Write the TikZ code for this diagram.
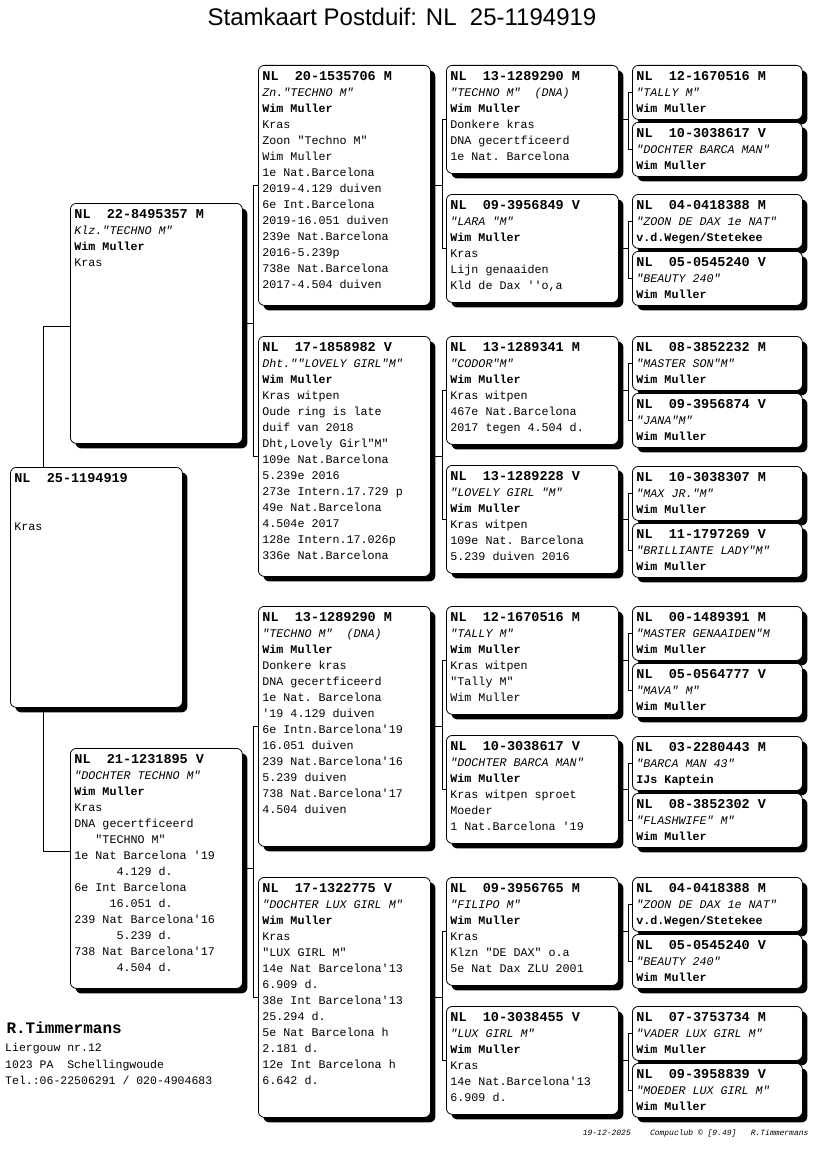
\documentclass[tikz,border=0pt]{standalone}
\usepackage{fontspec}
\setmonofont{Liberation Mono}
\newfontfamily\titlefont{Liberation Sans}
\usetikzlibrary{shadows}
\newcommand{\ringnr}[1]{{\fontsize{13.5}{16}\selectfont\bfseries #1}}

\begin{document}
\begin{tikzpicture}[x=1pt, y=-1pt,
    card/.style={draw, line width=0.8pt, fill=white, rounded corners=6pt, anchor=north west, align=flush left, inner xsep=4pt, inner ysep=4pt, text height=11pt, font=\ttfamily\fontsize{11.7}{16}\selectfont\frenchspacing, drop shadow={shadow xshift=5pt, shadow yshift=-5pt, fill=black, opacity=1}},
    big/.style={card, text width=164pt, text depth=221pt},
    mid/.style={card, text width=164pt, text depth=89pt},
    small/.style={card, text width=162pt, text depth=35pt},
    link/.style={line width=0.8pt}]
    \useasboundingbox (0,0) rectangle (816,1172);

    \node[font=\titlefont\fontsize{24}{28}\selectfont] (title) at (402,17) {Stamkaart Postduif: NL\ \ 25-1194919};

    % duif en ouders
    \node[big] (subj) at (10,467) {\ringnr{NL~~25-1194919}\\ \mbox{}\\ \mbox{}\\ Kras};
    \node[big] (s) at (70,203) {\ringnr{NL~~22-8495357 M}\\ \textit{Klz."TECHNO M"}\\ \textbf{Wim Muller}\\ Kras};
    \node[big] (d) at (70,748) {\ringnr{NL~~21-1231895 V}\\ \textit{"DOCHTER TECHNO M"}\\ \textbf{Wim Muller}\\ Kras\\ DNA gecertficeerd\\ ~~~"TECHNO M"\\ 1e Nat Barcelona '19\\ ~~~~~~4.129 d.\\ 6e Int Barcelona\\ ~~~~~16.051 d.\\ 239 Nat Barcelona'16\\ ~~~~~~5.239 d.\\ 738 Nat Barcelona'17\\ ~~~~~~4.504 d.};

    % grootouders
    \node[big] (ss) at (258,65) {\ringnr{NL~~20-1535706 M}\\ \textit{Zn."TECHNO M"}\\ \textbf{Wim Muller}\\ Kras\\ Zoon "Techno M"\\ Wim Muller\\ 1e Nat.Barcelona\\ 2019-4.129 duiven\\ 6e Int.Barcelona\\ 2019-16.051 duiven\\ 239e Nat.Barcelona\\ 2016-5.239p\\ 738e Nat.Barcelona\\ 2017-4.504 duiven};
    \node[big] (sd) at (258,336) {\ringnr{NL~~17-1858982 V}\\ \textit{Dht.""LOVELY GIRL"M"}\\ \textbf{Wim Muller}\\ Kras witpen\\ Oude ring is late\\ duif van 2018\\ Dht,Lovely Girl"M"\\ 109e Nat.Barcelona\\ 5.239e 2016\\ 273e Intern.17.729 p\\ 49e Nat.Barcelona\\ 4.504e 2017\\ 128e Intern.17.026p\\ 336e Nat.Barcelona};
    \node[big] (ds) at (258,606) {\ringnr{NL~~13-1289290 M}\\ \textit{"TECHNO M"~~(DNA)}\\ \textbf{Wim Muller}\\ Donkere kras\\ DNA gecertficeerd\\ 1e Nat. Barcelona\\ '19 4.129 duiven\\ 6e Intn.Barcelona'19\\ 16.051 duiven\\ 239 Nat.Barcelona'16\\ 5.239 duiven\\ 738 Nat.Barcelona'17\\ 4.504 duiven};
    \node[big] (dd) at (258,877) {\ringnr{NL~~17-1322775 V}\\ \textit{"DOCHTER LUX GIRL M"}\\ \textbf{Wim Muller}\\ Kras\\ "LUX GIRL M"\\ 14e Nat Barcelona'13\\ 6.909 d.\\ 38e Int Barcelona'13\\ 25.294 d.\\ 5e Nat Barcelona h\\ 2.181 d.\\ 12e Int Barcelona h\\ 6.642 d.};

    % overgrootouders
    \node[mid] (sss) at (446,65) {\ringnr{NL~~13-1289290 M}\\ \textit{"TECHNO M"~~(DNA)}\\ \textbf{Wim Muller}\\ Donkere kras\\ DNA gecertficeerd\\ 1e Nat. Barcelona};
    \node[mid] (ssd) at (446,194) {\ringnr{NL~~09-3956849 V}\\ \textit{"LARA "M"}\\ \textbf{Wim Muller}\\ Kras\\ Lijn genaaiden\\ Kld de Dax ''o,a};
    \node[mid] (sds) at (446,336) {\ringnr{NL~~13-1289341 M}\\ \textit{"CODOR"M"}\\ \textbf{Wim Muller}\\ Kras witpen\\ 467e Nat.Barcelona\\ 2017 tegen 4.504 d.};
    \node[mid] (sdd) at (446,465) {\ringnr{NL~~13-1289228 V}\\ \textit{"LOVELY GIRL "M"}\\ \textbf{Wim Muller}\\ Kras witpen\\ 109e Nat. Barcelona\\ 5.239 duiven 2016};
    \node[mid] (dss) at (446,606) {\ringnr{NL~~12-1670516 M}\\ \textit{"TALLY M"}\\ \textbf{Wim Muller}\\ Kras witpen\\ "Tally M"\\ Wim Muller};
    \node[mid] (dsd) at (446,735) {\ringnr{NL~~10-3038617 V}\\ \textit{"DOCHTER BARCA MAN"}\\ \textbf{Wim Muller}\\ Kras witpen sproet\\ Moeder\\ 1 Nat.Barcelona '19};
    \node[mid] (dds) at (446,877) {\ringnr{NL~~09-3956765 M}\\ \textit{"FILIPO M"}\\ \textbf{Wim Muller}\\ Kras\\ Klzn "DE DAX" o.a\\ 5e Nat Dax ZLU 2001};
    \node[mid] (ddd) at (446,1006) {\ringnr{NL~~10-3038455 V}\\ \textit{"LUX GIRL M"}\\ \textbf{Wim Muller}\\ Kras\\ 14e Nat.Barcelona'13\\ 6.909 d.};

    % betovergrootouders
    \node[small] (ssss) at (632,65) {\ringnr{NL~~12-1670516 M}\\ \textit{"TALLY M"}\\ \textbf{Wim Muller}};
    \node[small] (sssd) at (632,122) {\ringnr{NL~~10-3038617 V}\\ \textit{"DOCHTER BARCA MAN"}\\ \textbf{Wim Muller}};
    \node[small] (ssds) at (632,194) {\ringnr{NL~~04-0418388 M}\\ \textit{"ZOON DE DAX 1e NAT"}\\ \textbf{v.d.Wegen/Stetekee}};
    \node[small] (ssdd) at (632,251) {\ringnr{NL~~05-0545240 V}\\ \textit{"BEAUTY 240"}\\ \textbf{Wim Muller}};
    \node[small] (sdss) at (632,336) {\ringnr{NL~~08-3852232 M}\\ \textit{"MASTER SON"M"}\\ \textbf{Wim Muller}};
    \node[small] (sdsd) at (632,393) {\ringnr{NL~~09-3956874 V}\\ \textit{"JANA"M"}\\ \textbf{Wim Muller}};
    \node[small] (sdds) at (632,466) {\ringnr{NL~~10-3038307 M}\\ \textit{"MAX JR."M"}\\ \textbf{Wim Muller}};
    \node[small] (sddd) at (632,523) {\ringnr{NL~~11-1797269 V}\\ \textit{"BRILLIANTE LADY"M"}\\ \textbf{Wim Muller}};
    \node[small] (dsss) at (632,606) {\ringnr{NL~~00-1489391 M}\\ \textit{"MASTER GENAAIDEN"M}\\ \textbf{Wim Muller}};
    \node[small] (dssd) at (632,663) {\ringnr{NL~~05-0564777 V}\\ \textit{"MAVA" M"}\\ \textbf{Wim Muller}};
    \node[small] (dsds) at (632,736) {\ringnr{NL~~03-2280443 M}\\ \textit{"BARCA MAN 43"}\\ \textbf{IJs Kaptein}};
    \node[small] (dsdd) at (632,793) {\ringnr{NL~~08-3852302 V}\\ \textit{"FLASHWIFE" M"}\\ \textbf{Wim Muller}};
    \node[small] (ddss) at (632,877) {\ringnr{NL~~04-0418388 M}\\ \textit{"ZOON DE DAX 1e NAT"}\\ \textbf{v.d.Wegen/Stetekee}};
    \node[small] (ddsd) at (632,934) {\ringnr{NL~~05-0545240 V}\\ \textit{"BEAUTY 240"}\\ \textbf{Wim Muller}};
    \node[small] (ddds) at (632,1006) {\ringnr{NL~~07-3753734 M}\\ \textit{"VADER LUX GIRL M"}\\ \textbf{Wim Muller}};
    \node[small] (dddd) at (632,1063) {\ringnr{NL~~09-3958839 V}\\ \textit{"MOEDER LUX GIRL M"}\\ \textbf{Wim Muller}};

    % lijnen
    \draw[link] ([xshift=33pt]subj.north west) |- ([yshift=-3pt]s.west);
    \draw[link] ([xshift=33pt]subj.south west) |- ([yshift=17pt]d.west);
    \foreach \p/\g in {s/11, d/11, ss/12, sd/12, ds/12, dd/12, sss/10, ssd/10, sds/10, sdd/10, dss/10, dsd/10, dds/10, ddd/10} {
      \draw[link] (\p.east) -- ++(\g,0) |- (\p s.west);
      \draw[link] (\p.east) ++(\g,0) |- (\p d.west);
    }

    % eigenaar
    \node[anchor=west, font=\ttfamily\bfseries\fontsize{16}{18}\selectfont] (owner) at (3,1028) {R.Timmermans};
    \node[anchor=north west, align=left, inner sep=0pt, font=\ttfamily\fontsize{11.5}{16.5}\selectfont\frenchspacing] (addr) at (5,1043) {Liergouw nr.12\\ 1023 PA~~Schellingwoude\\ Tel.:06-22506291 / 020-4904683};
    \node[anchor=east, font=\ttfamily\itshape\fontsize{8}{10}\selectfont\frenchspacing] (stamp) at (812,1133) {19-12-2025~~~~Compuclub © [9.49]~~~R.Timmermans};
\end{tikzpicture}
\end{document}
